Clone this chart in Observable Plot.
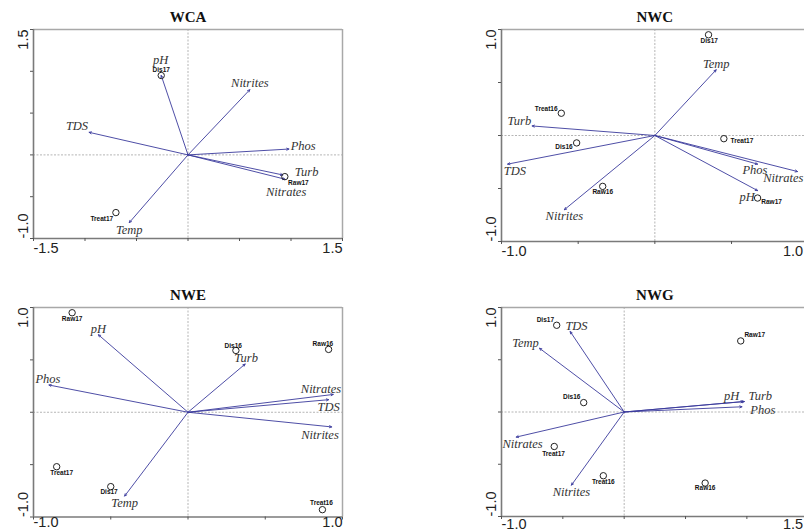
<!DOCTYPE html>
<html><head><meta charset="utf-8">
<script src="https://cdn.jsdelivr.net/npm/d3@7"></script>
<script src="https://cdn.jsdelivr.net/npm/@observablehq/plot@0.6"></script>
<style>
html,body{margin:0;padding:0;background:#fff;overflow:hidden}
#wrap{position:relative;width:804px;height:531px;overflow:hidden;background:#fff}
#wrap > div{position:absolute}
#wrap svg{max-width:none !important}
</style></head><body><div id="wrap"></div>
<script>
// ---- data ----
const envVars = ["pH","Nitrites","TDS","Phos","Turb","Nitrates","Temp"];

const wcaEnvX = [-0.26, 0.60, -0.96, 0.98, 0.92, 0.94, -0.57];
const wcaEnvY = [ 0.95, 0.78,  0.27, 0.07, -0.24, -0.29, -0.81];
const nwcEnvX = [ 0.67, -0.59, -0.96, 0.67, -0.80, 0.93, 0.40];
const nwcEnvY = [-0.52, -0.70, -0.27, -0.27, 0.09, -0.34, 0.62];
const nweEnvX = [-0.58, 0.93, 0.91, -0.90, 0.37, 0.94, -0.41];
const nweEnvY = [ 0.74, -0.14, 0.12, 0.26, 0.46, 0.17, -0.80];
const nwgEnvX = [ 0.97, -0.43, -0.44, 0.96, 0.98, -0.88, -0.69];
const nwgEnvY = [ 0.10, -0.70, 0.77, 0.05, 0.10, -0.24, 0.61];

const wcaSites = ["Dis17","Raw17","Treat17"];
const wcaSiteX = [-0.26, 0.94, -0.70];
const wcaSiteY = [ 0.95, -0.26, -0.69];
const sites = ["Dis16","Dis17","Raw16","Raw17","Treat16","Treat17"];
const nwcSiteX = [-0.51, 0.35, -0.34, 0.67, -0.61, 0.45];
const nwcSiteY = [-0.07, 0.95, -0.48, -0.59, 0.21, -0.03];
const nweSiteX = [ 0.31, -0.50, 0.91, -0.75, 0.87, -0.85];
const nweSiteY = [ 0.59, -0.71, 0.60, 0.95, -0.93, -0.52];
const nwgSiteX = [-0.33, -0.55, 0.66, 0.95, -0.17, -0.57];
const nwgSiteY = [ 0.09, 0.83, -0.68, 0.68, -0.61, -0.33];

const titles = ["WCA","NWC","NWE","NWG"];
const xDomains = [[-1.5, 1.5], [-1.0, 1.0], [-1.0, 1.0], [-1.0, 1.5]];
const yDomains = [[-1.0, 1.5], [-1.0, 1.0], [-1.0, 1.0], [-1.0, 1.0]];

// ---- label placement (style) ----
const envPos = [
  {pH:[-0.7,-15.7,"middle"], Nitrites:[0,-7,"middle"], TDS:[-1,-6.3,"end"], Phos:[1.7,-3,"start"], Turb:[12,-3,"start"], Nitrates:[1.3,12.7,"middle"], Temp:[0,7.3,"middle"]},
  {Temp:[0,-6,"middle"], Turb:[-1,-5,"end"], TDS:[7.3,7,"middle"], Nitrites:[0,6.3,"middle"], Phos:[-2.7,6,"middle"], Nitrates:[6,6,"end"], pH:[-2.7,6.7,"end"]},
  {pH:[0,-5.7,"middle"], Phos:[-1,-6,"middle"], Turb:[1,-5.7,"middle"], Nitrates:[-12.3,-5,"middle"], TDS:[0,7.3,"middle"], Nitrites:[-11.7,8,"middle"], Temp:[0,6.7,"middle"]},
  {TDS:[6.3,-5.3,"middle"], Temp:[-0.7,-5.7,"end"], pH:[-4,-6,"end"], Turb:[4,-5.3,"start"], Phos:[8.3,3.3,"start"], Nitrates:[6.3,7.3,"middle"], Nitrites:[0,7,"middle"]}
];
const sitePos = [
  {Dis17:[0,-5.3,"middle"], Raw17:[3.3,6,"start"], Treat17:[-2.7,6.7,"end"]},
  {Dis17:[0.7,5.7,"middle"], Treat16:[-3.7,-4.3,"end"], Dis16:[-4,4,"end"], Treat17:[6.7,2.7,"start"], Raw16:[0,5.7,"middle"], Raw17:[3.7,4.3,"start"]},
  {Raw17:[0,5.7,"middle"], Dis16:[-2.7,-4.3,"middle"], Raw16:[-5.7,-5.7,"middle"], Treat17:[5,5.7,"middle"], Dis17:[-1.7,5.7,"middle"], Treat16:[-1,-6.3,"middle"]},
  {Dis17:[-2.7,-5.3,"end"], Raw17:[3.7,-6,"start"], Dis16:[-3.3,-5.7,"end"], Treat17:[-0.7,7.3,"middle"], Treat16:[0,5.7,"middle"], Raw16:[0,5.3,"middle"]}
];

const panels = [
  {env: envVars.map((n,i)=>({name:n, x:wcaEnvX[i], y:wcaEnvY[i]})), site: wcaSites.map((n,i)=>({name:n, x:wcaSiteX[i], y:wcaSiteY[i]}))},
  {env: envVars.map((n,i)=>({name:n, x:nwcEnvX[i], y:nwcEnvY[i]})), site: sites.map((n,i)=>({name:n, x:nwcSiteX[i], y:nwcSiteY[i]}))},
  {env: envVars.map((n,i)=>({name:n, x:nweEnvX[i], y:nweEnvY[i]})), site: sites.map((n,i)=>({name:n, x:nweSiteX[i], y:nweSiteY[i]}))},
  {env: envVars.map((n,i)=>({name:n, x:nwgEnvX[i], y:nwgEnvY[i]})), site: sites.map((n,i)=>({name:n, x:nwgSiteX[i], y:nwgSiteY[i]}))}
];

// layout boxes: [left, top, width, height, mLeft, mRight, mTop, mBottom, xLabelDy, rightLabelDx]
const boxes = [
  [0,   0,   400, 265, 33, 58,   29, 27, 10, 0],
  [400, 0,   420, 265, 101, 12.3, 29, 24, 10, -5],
  [0,   265, 400, 266, 33, 58,   42, 14.5, 5, 0],
  [400, 265, 420, 266, 101, 12.3, 42, 15, 8, -5]
];

const ARROW = "#3a3a9c";
const SERIF = "'Liberation Serif', 'Times New Roman', serif";
const SANS = "'Liberation Sans', Arial, sans-serif";

const wrap = document.getElementById("wrap");

panels.forEach((p, k) => {
  const [L, T, W, H, ml, mr, mt, mb, xdy, rdx] = boxes[k];
  const xd = xDomains[k], yd = yDomains[k];
  const xt = d3.range(xd[0], xd[1] + 1e-9, 0.5);
  const yt = d3.range(yd[0], yd[1] + 1e-9, 0.5);
  const tickLab = {fontFamily: SANS, fontSize: 14.5, fill: "#222", lineAnchor: "middle", text: d => d.toFixed(1)};
  const marks = [
    // zero lines
    Plot.ruleX([0], {stroke: "#b5b5b5", strokeWidth: 1, strokeDasharray: "2,1.5"}),
    Plot.ruleY([0], {stroke: "#b5b5b5", strokeWidth: 1, strokeDasharray: "2,1.5"}),
    // frame
    Plot.ruleY([yd[1]], {stroke: "#a8a8a8", strokeWidth: 1.5}),
    Plot.ruleX([xd[1]], {stroke: "#a8a8a8", strokeWidth: 1.5}),
    Plot.ruleX([xd[0]], {stroke: "#7a7a7a", strokeWidth: 1.6}),
    Plot.ruleY([yd[0]], {stroke: "#7a7a7a", strokeWidth: 1.6}),
    // tick marks
    Plot.axisX({anchor: "bottom", ticks: xt, tickSize: 3, tickFormat: () => "", label: null, stroke: "#555"}),
    Plot.axisY({anchor: "left", ticks: yt, tickSize: 3, tickFormat: () => "", label: null, stroke: "#555"}),
    // arrows
    Plot.arrow(p.env, {x1: () => 0, y1: () => 0, x2: "x", y2: "y", stroke: ARROW, strokeWidth: 0.9, headLength: 4, headAngle: 50}),
    // site circles
    Plot.dot(p.site, {x: "x", y: "y", r: 3.2, stroke: "#222", strokeWidth: 1, fill: "none"}),
    // tick labels
    Plot.text([xd[0]], {x: d => d, frameAnchor: "bottom", dy: xdy, textAnchor: "start", ...tickLab}),
    Plot.text([xd[1]], {x: d => d, frameAnchor: "bottom", dy: xdy, dx: rdx, textAnchor: "end", ...tickLab}),
    Plot.text([yd[1]], {y: d => d, frameAnchor: "left", dx: -10.5, rotate: -90, textAnchor: "end", ...tickLab}),
    Plot.text([yd[0]], {y: d => d, frameAnchor: "left", dx: -10.5, rotate: -90, textAnchor: "start", ...tickLab}),
    // title
    Plot.text([titles[k]], {frameAnchor: "top", dy: -12, lineAnchor: "middle", fontFamily: SERIF, fontWeight: "bold", fontSize: 15, fill: "#111"})
  ];
  // env labels
  p.env.forEach(d => {
    const [dx, dy, a] = envPos[k][d.name];
    marks.push(Plot.text([d], {x: "x", y: "y", text: "name", dx, dy, textAnchor: a, fontFamily: SERIF, fontStyle: "italic", fontSize: 12.5, fill: "#333"}));
  });
  // site labels
  p.site.forEach(d => {
    const [dx, dy, a] = sitePos[k][d.name];
    marks.push(Plot.text([d], {x: "x", y: "y", text: "name", dx, dy, textAnchor: a, fontFamily: SANS, fontWeight: "bold", fontSize: 6.5, fill: "#111"}));
  });

  const chart = Plot.plot({
    width: W, height: H,
    marginLeft: ml, marginRight: mr, marginTop: mt, marginBottom: mb,
    x: {type: "linear", domain: xd, axis: null},
    y: {type: "linear", domain: yd, axis: null},
    style: {background: "transparent", overflow: "visible", maxWidth: "none"},
    marks
  });
  const div = document.createElement("div");
  div.style.left = L + "px";
  div.style.top = T + "px";
  div.style.width = W + "px";
  div.style.height = H + "px";
  div.appendChild(chart);
  wrap.appendChild(div);
});
</script>
</body></html>
